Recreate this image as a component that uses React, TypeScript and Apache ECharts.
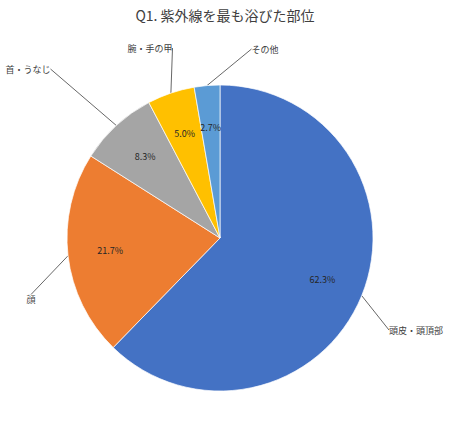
import React, { useEffect, useRef } from "react";
import * as echarts from "echarts";

const title = "Q1. 紫外線を最も浴びた部位";
const categories = ["頭皮・頭頂部", "顔", "首・うなじ", "腕・手の甲", "その他"];
const values = [62.3, 21.7, 8.3, 5.0, 2.7];
const colors = ["#4472C4", "#ED7D31", "#A5A5A5", "#FFC000", "#5B9BD5"];

// label anchor placements (layout only)
const labelSpots: [number, number][] = [
  [416, 330],
  [31, 299],
  [28, 69],
  [150, 48],
  [265, 49],
];

const FONT = "'Noto Sans CJK JP', 'Noto Sans', sans-serif";

export default function App() {
  const ref = useRef<HTMLDivElement>(null);
  useEffect(() => {
    document.body.style.margin = "0";
    const chart = echarts.init(ref.current!, null, { renderer: "svg" });
    const data = categories.map((name, i) => ({
      name,
      value: values[i],
      itemStyle: { color: colors[i] },
    }));
    chart.setOption({
      animation: false,
      title: {
        text: title,
        left: "center",
        top: 3,
        textStyle: { fontFamily: FONT, fontSize: 14, fontWeight: "normal", color: "#404040" },
      },
      series: [
        {
          type: "pie",
          center: [220, 238],
          radius: [0, 153],
          startAngle: 90,
          clockwise: true,
          data,
          silent: true,
          itemStyle: { borderColor: "#fff", borderWidth: 0.7 },
          label: {
            show: true,
            position: "outside",
            formatter: "{b}",
            fontFamily: FONT,
            fontSize: 9,
            color: "#404040",
          },
          labelLine: {
            show: true,
            length: 20,
            length2: 0,
            lineStyle: { color: "#404040", width: 0.8 },
          },
          labelLayout: (p: any) => {
            const s = labelSpots[p.dataIndex];
            return { x: s[0], y: s[1], align: "center", verticalAlign: "middle" };
          },
        },
        {
          type: "pie",
          center: [220, 238],
          radius: [62, 153],
          startAngle: 90,
          clockwise: true,
          silent: true,
          data: categories.map((name, i) => ({ name, value: values[i] })),
          itemStyle: { color: "rgba(0,0,0,0)" },
          label: {
            show: true,
            position: "inside",
            formatter: (p: any) => p.value.toFixed(1) + "%",
            fontFamily: FONT,
            fontSize: 9,
            color: "#262626",
          },
          labelLine: { show: false },
        },
      ],
    });
    return () => chart.dispose();
  }, []);
  return <div ref={ref} style={{ width: 450, height: 436 }} />;
}
